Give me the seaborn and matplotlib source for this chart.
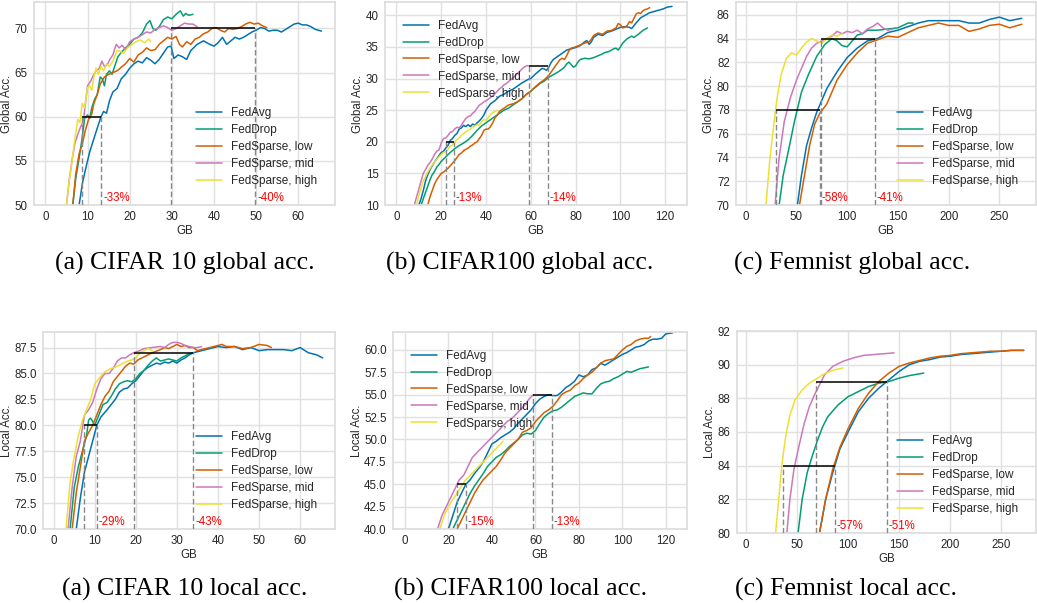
import pandas as pd
import seaborn as sns
import matplotlib.pyplot as plt
from matplotlib.ticker import MultipleLocator, FormatStrFormatter

methods = ["FedAvg", "FedDrop", "FedSparse, low", "FedSparse, mid", "FedSparse, high"]
colors = ["#0173b2", "#029e73", "#d55e00", "#cc78bc", "#ece133"]

# ---- (a) CIFAR 10 global acc. ----
c10g_avg = [(8,50),(8.8,52.5),(9.5,54),(10.5,56),(11.5,57.5),(12.5,59),(13.2,60),(13.8,60.6),(14.5,60.4),(15.2,61.8),(16,62.8),(17,63.2),(18,64.3),(19,64.8),(20,65.5),(21,66),(22,66.3),(23,66.1),(24,66.7),(25,66.4),(26,66),(27,66.5),(28,67.2),(29,67.9),(29.8,68),(30.5,66.6),(31.5,67),(32.5,66.8),(33.5,66.5),(34.5,67.5),(36,68.2),(37.5,68.6),(39,68.2),(40,68),(41,68.4),(42,69),(43,68.2),(44,68.6),(45,69),(46,68.8),(47,69),(48,69.3),(49,69.6),(50,69.8),(51,70.1),(52,70),(53,69.7),(54,69.8),(55,69.8),(56,69.6),(57,69.9),(58,70.2),(59,70.5),(60,70.6),(61,70.4),(62,70.4),(63,70.2),(64,69.9),(65.5,69.7)]
c10g_drop = [(6.5,50),(7.2,53),(8,55.3),(8.7,57.5),(9.3,59.8),(10,60.2),(10.5,59.8),(11,61),(11.7,62),(12.3,62.5),(13,64.5),(13.5,64.3),(14,63.5),(14.5,64.8),(15.2,65.2),(15.8,64.8),(16.5,65.8),(17.2,66.8),(18,67.3),(19,67.8),(20,68.2),(21,68.8),(22,69),(23,69.5),(24,70.5),(24.8,70.9),(25.5,70),(26.2,69.8),(27,70.2),(28,71),(29,71.3),(30,71.1),(31,71.6),(32,72),(32.7,71.4),(33.3,71.7),(34,71.5),(35,71.6)]
c10g_low = [(6.5,50),(7.2,53.5),(8,55.8),(8.8,57),(9.5,58.5),(10.3,59.8),(11,60.3),(11.5,61.5),(12.3,62.5),(13,63.7),(14,64.5),(15,64.8),(16,65),(17,65.2),(18,65.6),(19,66),(20,66.6),(21,66.2),(22,67),(23,67.3),(24,67.8),(25,67.5),(26,67.6),(27,68.2),(28,68.6),(29,69),(30,68.8),(31,69.1),(31.8,68.2),(32.5,67.9),(33.5,68.5),(34.5,68.2),(35.5,68.8),(36.5,69),(37.5,69.4),(38.5,69.6),(39.5,70),(40.5,70.1),(41.5,69.8),(42.5,69.6),(43.5,70),(44.5,69.9),(45.5,70),(46.5,70.2),(47.5,70.5),(48.5,70.7),(49.5,70.5),(50.5,70.6),(51.5,70.3),(52.5,70.1)]
c10g_mid = [(5,50),(5.7,53),(6.3,55),(7,57),(7.7,58),(8.3,58.8),(9,59.5),(9.5,61.5),(10,63.5),(10.7,64),(11.3,64.6),(12,65.2),(12.7,65.4),(13.4,66.3),(14,65.7),(14.7,65.9),(15.3,66.5),(16,67),(16.8,68.2),(17.5,67.8),(18.2,68.1),(19,67.6),(20,68.5),(21,68.8),(22,69),(23,69.3),(24,69.6),(25,69.5),(26,69.9),(27,70.1),(28,70.3),(29,70.1),(30,69.8),(31,70),(32,70.3),(33,70.6),(34,70.5),(35,70.5),(36,70.2)]
c10g_high = [(5,50),(5.6,52.5),(6.2,54.5),(7,57.5),(7.7,59.7),(8.2,59.3),(8.7,61.5),(9.3,61),(10,63.3),(10.5,63.5),(11,63),(11.5,64.5),(12,65.5),(12.6,64.8),(13.2,65.7),(13.8,65.2),(14.5,66),(15.2,65.7),(16,66.3),(17,67.5),(17.8,67.4),(18.5,67.2),(19.5,67.8),(20.5,68.2),(21.5,68.5),(22.5,68.7),(23.5,68.4),(24.5,68.8),(25,68.5)]
c10g_targets = [60, 70]
c10g_cross = [(8.8, 13.2), (29.8, 49.8)]
c10g_saving = ["-33%", "-40%"]

# ---- (b) CIFAR100 global acc. ----
c100g_avg = [(10,10),(11,11),(12,12.3),(13,13.8),(14,14.8),(15,15.6),(16,16.2),(17,16.8),(18,17.3),(19,17.8),(20,18.3),(21,18.5),(22,19),(23,19.4),(24,20.2),(25,20.5),(26,21),(27,21.3),(28,22),(29,22.2),(30,22.6),(31,22.4),(32,22.7),(33,22.4),(34,22.8),(35,22.6),(36,23),(37,23.3),(38,23.7),(39,24.2),(40,25),(41,25.5),(42,26),(44,26.5),(46,27.2),(48,27.5),(50,28),(52,28.3),(54,28.8),(56,29.3),(58,29.7),(59,29.9),(60,30),(62,30.7),(64,31.3),(65,31.6),(66,31.5),(67,31.3),(68,31.8),(69,32.5),(70,33),(72,33.5),(74,34),(76,34.5),(78,34.7),(80,34.9),(82,35.2),(84,35.8),(85,36),(86,35.4),(87,35.8),(88,36.5),(90,37),(92,36.8),(94,37.3),(96,37.5),(98,37.8),(100,38.1),(102,38.2),(104,38.1),(105,37.9),(107,38.8),(109,39.6),(111,40),(113,40.4),(115,40.6),(117,40.8),(119,41),(121,41.3),(123,41.4)]
c100g_drop = [(11,10),(12,11),(13,12),(14,13),(15,14),(16,14.8),(17,15.3),(18,16),(19,16.4),(20,16.9),(22,17.6),(24,18.3),(26,18.9),(28,19.4),(30,19.8),(32,20.3),(34,21),(36,21.8),(38,22.5),(40,23),(42,23.5),(44,24),(46,24.5),(48,25),(50,25.3),(52,25.8),(54,26.3),(56,26.8),(58,27.5),(60,28),(62,28.6),(64,29.2),(66,29.6),(68,30.2),(70,30.6),(72,31),(74,31.5),(75,31.8),(76,32.3),(77,32.6),(78,32.2),(79,31.8),(80,32),(81,32.6),(82,33),(84,33.2),(86,33.1),(88,33.3),(90,33.6),(92,33.9),(93,34.1),(95,34.3),(97,34.7),(98,34.8),(99,34.5),(100,35),(101,35.6),(103,36.3),(105,36.7),(106,36.5),(108,37),(110,37.6),(112,38)]
c100g_low = [(14,10),(15,11.3),(16,12.3),(17,13.3),(18,14),(19,14.5),(20,15),(21,15.2),(22,15.5),(23,15.8),(24,16.2),(25,16.6),(26,17),(27,17.5),(28,18),(29,18.2),(30,18.6),(31,18.8),(32,19),(33,19.3),(34,19.5),(35,19.8),(36,20),(37,20.5),(38,21),(39,21.8),(40,22),(41,22),(42,22.4),(43,23),(44,23.8),(45,24.2),(46,24.8),(48,25.3),(50,25.8),(52,26),(54,26.3),(56,26.8),(58,27.5),(60,28),(62,28.7),(64,29.3),(66,29.8),(68,30.5),(70,31.5),(71,32),(72,32.5),(73,33),(74,33.2),(75,33),(76,33.6),(77,34.4),(78,34.8),(80,35),(82,35.3),(84,35.6),(86,35.8),(87,36.2),(88,36.8),(90,37.2),(92,37),(94,37.5),(96,37.6),(98,38),(99,38.7),(100,38.5),(101,38),(102,38.1),(103,38.4),(104,39),(105,38.8),(106,39.5),(107,40.2),(108,40.4),(109,40.3),(110,40.7),(111,40.9),(112,41),(113,41.2)]
c100g_mid = [(8,10),(9,11.3),(10,12.5),(11,13.8),(12,15),(13,15.6),(14,16.3),(15,16.7),(16,17.3),(17,18),(18,18.5),(19,18.7),(20,19.8),(21,20.5),(22,20.6),(23,21),(24,21.5),(25,21.6),(26,22),(27,22.3),(28,22.2),(29,22.6),(30,23.2),(31,23.7),(32,24),(33,24.1),(34,24.5),(35,24.8),(36,25.3),(37,25.8),(38,26),(39,26.3),(40,26.5),(41,26.7),(42,27),(43,27.3),(44,27.6),(45,28),(46,28.4),(47,28.6),(48,29),(49,29.2),(50,29.5),(51,29.8),(52,30.1),(53,30.4),(54,30.8),(55,31.1),(56,31.5),(57,31.8),(58,32),(59,32)]
c100g_high = [(9,10),(10,11.5),(11,12.7),(12,13.8),(13,14.5),(14,15.2),(15,15.8),(16,16.3),(17,16.8),(18,17.2),(19,17.6),(20,18),(21,18.3),(22,18.5),(23,18.8),(24,19.3),(25,19.5),(26,20),(27,20.3),(28,20.6),(29,21),(30,21.3),(31,21.6),(32,21.8),(33,22),(34,22.3),(35,22.5),(36,22.7),(37,22.6),(38,23.2),(39,23.5),(40,23.4),(41,23.8),(42,24.3),(43,24.6),(44,24.8),(45,25)]
c100g_targets = [20, 32]
c100g_cross = [(22, 25.5), (59, 67.5)]
c100g_saving = ["-13%", "-14%"]

# ---- (c) Femnist global acc. ----
femg_avg = [(51,70),(55,72.5),(60,75),(65,76.5),(70,77.8),(75,78.8),(80,79.8),(85,80.5),(90,81.2),(95,81.8),(100,82.4),(110,83.2),(120,83.8),(130,84),(140,84.5),(150,84.7),(160,85),(170,85.3),(180,85.5),(190,85.5),(200,85.5),(210,85.5),(220,85.3),(230,85.3),(240,85.6),(250,85.8),(260,85.5),(272,85.7)]
femg_drop = [(33,70),(37,72.5),(42,74.5),(48,77),(55,79.5),(62,81),(70,82.5),(78,83.5),(85,84),(90,83.8),(95,83.4),(100,83.3),(105,83.8),(110,84.3),(115,84.4),(120,84.7),(130,84.7),(140,84.8),(150,84.9),(160,85.3),(165,85.3)]
femg_low = [(53,70),(58,72.5),(63,75),(68,76.8),(73,77.7),(80,78.5),(85,79.5),(90,80.5),(100,81.8),(110,82.8),(120,83.6),(130,83.9),(140,84.2),(150,84.1),(160,84.5),(170,84.9),(180,85.1),(190,85.3),(200,85.1),(210,85.1),(220,84.6),(230,84.8),(240,85.1),(250,85.2),(260,84.9),(272,85.2)]
femg_mid = [(29,70),(33,74),(38,77),(44,79),(50,80.5),(55,81.5),(60,82.5),(65,83.2),(70,83.6),(75,83.8),(80,84),(85,84.2),(90,84.6),(95,84.4),(100,84.6),(105,84.5),(110,84.7),(115,84.4),(120,84.8),(125,85),(130,85.3),(135,84.9),(140,84.7),(145,84.8)]
femg_high = [(20,70),(24,74),(28,77),(31,79),(35,81),(40,82.3),(45,82.8),(50,82.6),(55,83.2),(60,83.7),(65,84),(70,83.8),(75,83.6),(80,84),(85,84.3),(90,84.2),(95,84.4)]
femg_targets = [78, 84]
femg_cross = [(30, 73), (74, 127)]
femg_saving = ["-58%", "-41%"]

# ---- (a) CIFAR 10 local acc. ----
c10l_avg = [(5.5,70),(6.5,73),(7.5,75.5),(8.5,77),(9.5,78.5),(10.5,80),(11.5,80.8),(13,81.5),(14,82),(15,82.5),(16,83.2),(17,83.5),(18,83.6),(19,84),(20,84.3),(21,84.8),(22,85.3),(23,85.6),(24,85.8),(25,86),(26,85.9),(27,86.1),(28,86),(29,86.2),(30,86),(31,86.3),(32,86.5),(33,86.8),(34,87),(35,87.1),(36,87.2),(38,87.4),(40,87.6),(42,87.5),(44,87.6),(46,87.3),(48,87.5),(50,87.2),(52,87.3),(54,87.3),(56,87.3),(58,87.2),(60,87.5),(62,87),(64,86.8),(65.5,86.5)]
c10l_drop = [(4,70),(5,74),(6,76),(7,77.5),(8,79),(8.5,80.5),(9,80.7),(10,80),(11,81),(12,82),(13,82.2),(14,82.8),(15,83.5),(16,84),(17,84.2),(18,84.3),(19,84.2),(20,84.5),(21,85),(22,85.3),(23,85.8),(24,86.2),(25,86.5),(26,86.2),(27,86.3),(28,86.4),(29,86.3),(30,86.2),(31,86.5),(32,86.7),(33,86.9),(34,87)]
c10l_low = [(4.5,70),(5.5,73.5),(6.5,76),(7.5,78.5),(8.5,79.3),(9.5,80),(10.5,81),(11.5,82),(12.5,82.8),(13.5,83.3),(14.5,84.2),(15.5,84.7),(16.5,85.2),(17.5,85.7),(18.5,86),(19.5,85.9),(20.5,86.3),(22,86.6),(24,87),(26,87.3),(27,87.5),(28,87.4),(29,87.6),(30,87.8),(31,87.6),(32,87.7),(33,87.5),(34,87.5),(35,87.2),(36,87.3),(38,87.5),(40,87.7),(41,87.8),(42,87.6),(44,87.6),(46,87.4),(48,87.5),(50,87.8),(52,87.7),(53,87.5)]
c10l_mid = [(3.5,70),(4.5,74),(5.5,77),(6.5,78.5),(7.5,81),(8.5,81.5),(9.5,82.2),(10.5,83.5),(11.5,84.5),(12.5,85),(13.5,85),(14.5,85.5),(15.5,86.2),(16.5,86.5),(17.5,86.5),(18.5,86.8),(19.5,87),(21,87.2),(22,87.4),(24,87.5),(26,87.6),(27,87.5),(28,87.8),(29,88),(30,88),(31,87.9),(32,87.7),(33,87.6),(34,87.5),(35,87.5),(36,87.6)]
c10l_high = [(3,70),(4,74.5),(5,77),(6,79),(7,80.5),(8,81.5),(9,82.5),(10,84),(11,84.5),(12,85),(13,85.3),(14,85.5),(15,85.6),(16,85.8),(17,86),(18,86.2),(19,86.3),(20,86.5),(21,87),(22,87.2),(23,87.4),(24,87.2)]
c10l_targets = [80, 87]
c10l_cross = [(7.5, 10.5), (19.5, 34)]
c10l_saving = ["-29%", "-43%"]

# ---- (b) CIFAR100 local acc. ----
c100l_avg = [(20,40),(22,41.5),(24,43),(26,44),(28,45),(30,45.5),(32,46.2),(34,46.8),(36,47.5),(38,48.5),(40,49.5),(42,49.8),(44,50.2),(46,50.5),(48,50.8),(50,51.2),(52,51.8),(54,52.3),(56,52.8),(58,53.3),(60,54),(62,54.5),(64,54.8),(66,55),(68,54.9),(70,54.9),(72,55.3),(74,55.8),(76,56.1),(78,56.5),(80,57.2),(82,57),(84,57.2),(86,57.8),(88,58),(90,58.5),(92,58.3),(94,58.6),(96,58.9),(98,59.2),(100,59.5),(102,59.7),(104,60),(106,60.3),(108,60.4),(110,60.6),(112,61),(114,61.2),(116,61.2),(118,61.3),(120,61.8),(123,61.9)]
c100l_drop = [(22,40),(24,41),(26,42),(28,43),(30,44),(32,44.8),(34,45.5),(36,46.2),(38,47),(40,47.5),(42,48),(44,48.3),(46,48.7),(48,49.2),(50,49.6),(52,50),(54,50.5),(56,50.7),(58,50.6),(60,51),(62,51.8),(64,52.5),(66,52.9),(68,53.2),(70,53.3),(72,53.6),(74,54),(76,54.4),(78,54.8),(80,55),(82,55.2),(84,55.1),(86,55.1),(88,55.7),(90,56.2),(92,56.4),(94,56.5),(96,56.8),(98,57),(100,57.3),(102,57.6),(104,57.5),(106,57.7),(108,57.9),(110,58),(112,58.1)]
c100l_low = [(24,40),(26,41),(28,42),(30,43),(32,44),(34,44.8),(36,45.5),(38,46),(40,46.5),(42,47),(44,47.7),(46,48.5),(48,49),(50,49.5),(52,50),(54,50.8),(56,51),(58,51.3),(60,52),(62,52.5),(64,53),(66,53.3),(68,53.7),(70,54.3),(72,55),(74,55.3),(76,55.5),(78,56),(80,56.3),(82,56.8),(84,57.2),(86,57.5),(88,58),(90,58.5),(92,58.8),(94,58.9),(96,59),(98,59.5),(100,60),(102,60.4),(104,60.6),(106,61),(108,61.2),(110,61.3),(112,61.3),(113,61.5)]
c100l_mid = [(15,40),(17,41.5),(19,42.5),(21,43.5),(23,44.5),(25,45.5),(27,46),(29,47),(31,48),(33,48.5),(35,49),(37,49.5),(39,50),(41,50.5),(43,51),(45,51.5),(47,52),(49,52.3),(51,52.8),(53,53.3),(55,53.8),(57,54.5),(59,55)]
c100l_high = [(16,40),(18,41.5),(20,42.5),(22,43.3),(24,44),(26,44.8),(28,45.5),(30,46),(32,46.5),(34,47),(36,47.5),(38,48),(40,48.5),(42,49),(44,49.5),(45,49.8)]
c100l_targets = [45, 55]
c100l_cross = [(24, 28), (59, 67.5)]
c100l_saving = ["-15%", "-13%"]

# ---- (c) Femnist local acc. ----
feml_avg = [(72,80),(78,82),(85,83.6),(92,85),(100,86),(110,87.2),(120,88),(130,88.6),(140,89.1),(150,89.6),(160,90),(170,90.2),(180,90.3),(190,90.45),(200,90.5),(210,90.6),(220,90.65),(230,90.7),(240,90.75),(250,90.8),(260,90.85),(272,90.85)]
feml_drop = [(51,80),(55,82),(60,83.6),(65,84.6),(70,85.5),(75,86.3),(80,86.9),(90,87.6),(100,88.1),(110,88.4),(120,88.7),(130,88.9),(140,89),(150,89.2),(160,89.35),(174,89.5)]
feml_low = [(72,80),(78,82),(85,83.8),(92,85.1),(100,86.2),(110,87.4),(120,88.3),(130,89),(140,89.5),(150,89.9),(160,90.1),(170,90.25),(180,90.4),(190,90.5),(200,90.55),(210,90.65),(220,90.7),(230,90.75),(240,90.8),(250,90.8),(260,90.85),(272,90.85)]
feml_mid = [(40,80),(43,82),(47,83.8),(52,85.2),(57,86.5),(62,87.5),(67,88.2),(72,88.8),(77,89.4),(85,89.9),(95,90.2),(105,90.4),(115,90.55),(125,90.6),(135,90.65),(145,90.7)]
feml_high = [(29,80),(32,82),(35,84),(39,85.8),(43,87),(48,87.9),(55,88.5),(62,88.9),(70,89.2),(78,89.5),(87,89.7),(95,89.8)]
feml_targets = [84, 89]
feml_cross = [(36.5, 87), (68.5, 138)]
feml_saving = ["-57%", "-51%"]

sns.set_theme(style="whitegrid")
plt.rcParams["font.family"] = ["Liberation Sans", "DejaVu Sans"]
plt.rcParams["axes.edgecolor"] = "#dddddd"
plt.rcParams["grid.color"] = "#e0e0e0"

fig = plt.figure(figsize=(10.37, 6.03), dpi=100)
W, H = 1037, 603


def px_axes(l, t, r, b):
    return fig.add_axes([l / W, 1 - b / H, (r - l) / W, (b - t) / H])


def draw(ax, curves, targets, cross, saving, xlim, ylim, xstep, ystep, yfmt, ylabel, loc):
    frames = []
    for m, pts in zip(methods, curves):
        d = pd.DataFrame(pts, columns=["GB", "acc"])
        d["method"] = m
        frames.append(d)
    df = pd.concat(frames, ignore_index=True)
    sns.lineplot(data=df, x="GB", y="acc", hue="method", hue_order=methods,
                 palette=colors, estimator=None, sort=False, lw=1.1, ax=ax)
    for t, (x0, x1), s in zip(targets, cross, saving):
        ax.vlines([x0, x1], ylim[0], t, colors="#888888", linestyles=(0, (4, 2)), lw=1, zorder=3)
        ax.hlines(t, x0, x1, colors="black", lw=1.3, alpha=0.85, zorder=4)
        ax.annotate(s, (x1, ylim[0]), xytext=(1.5, 0.5), textcoords="offset points",
                    color="red", fontsize=8.3, ha="left", va="bottom")
    ax.set_xlim(*xlim)
    ax.set_ylim(*ylim)
    ax.xaxis.set_major_locator(MultipleLocator(xstep))
    ax.yaxis.set_major_locator(MultipleLocator(ystep))
    ax.yaxis.set_major_formatter(FormatStrFormatter(yfmt))
    ax.tick_params(labelsize=8.3, length=0, pad=4.5)
    ax.set_xlabel("GB", fontsize=8.3, labelpad=1.5)
    ax.set_ylabel(ylabel, fontsize=8.3, labelpad=1)
    h, l = ax.get_legend_handles_labels()
    ax.legend(h, l, loc=loc, frameon=False, fontsize=8.5, handlelength=2.2,
              labelspacing=0.42, borderaxespad=1.1)


ax1 = px_axes(34, 2, 335, 205)
draw(ax1, [c10g_avg, c10g_drop, c10g_low, c10g_mid, c10g_high], c10g_targets, c10g_cross, c10g_saving,
     (-2.7, 68.7), (50, 73), 10, 5, "%d", "Global Acc.", "lower right")
ax2 = px_axes(385, 2, 687, 205)
draw(ax2, [c100g_avg, c100g_drop, c100g_low, c100g_mid, c100g_high], c100g_targets, c100g_cross, c100g_saving,
     (-5.1, 129.7), (10, 42.1), 20, 5, "%d", "Global Acc.", "upper left")
ax3 = px_axes(736, 2, 1036, 205)
draw(ax3, [femg_avg, femg_drop, femg_low, femg_mid, femg_high], femg_targets, femg_cross, femg_saving,
     (-9.5, 286), (70, 87.07), 50, 2, "%d", "Global Acc.", "lower right")
ax4 = px_axes(43, 332, 335, 529)
draw(ax4, [c10l_avg, c10l_drop, c10l_low, c10l_mid, c10l_high], c10l_targets, c10l_cross, c10l_saving,
     (-2.6, 68.5), (70, 89), 10, 2.5, "%.1f", "Local Acc.", "lower right")
ax5 = px_axes(393, 332, 687, 529)
draw(ax5, [c100l_avg, c100l_drop, c100l_low, c100l_mid, c100l_high], c100l_targets, c100l_cross, c100l_saving,
     (-5.5, 129.7), (40, 62), 20, 2.5, "%.1f", "Local Acc.", "upper left")
ax6 = px_axes(737, 331, 1036, 533)
draw(ax6, [feml_avg, feml_drop, feml_low, feml_mid, feml_high], feml_targets, feml_cross, feml_saving,
     (-8.8, 284), (80, 92), 50, 2, "%d", "Local Acc.", "lower right")

captions = [("(a) CIFAR 10 global acc.", 185, 263), ("(b) CIFAR100 global acc.", 520, 263),
            ("(c) Femnist global acc.", 852, 263), ("(a) CIFAR 10 local acc.", 185, 589),
            ("(b) CIFAR100 local acc.", 521, 589), ("(c) Femnist local acc.", 846, 589)]
for text, cx, cy in captions:
    fig.text(cx / W, 1 - cy / H, text, ha="center", va="center", fontsize=18.5,
             family=["Liberation Serif", "DejaVu Serif"], color="black")

fig.savefig("out.png", dpi=100)
